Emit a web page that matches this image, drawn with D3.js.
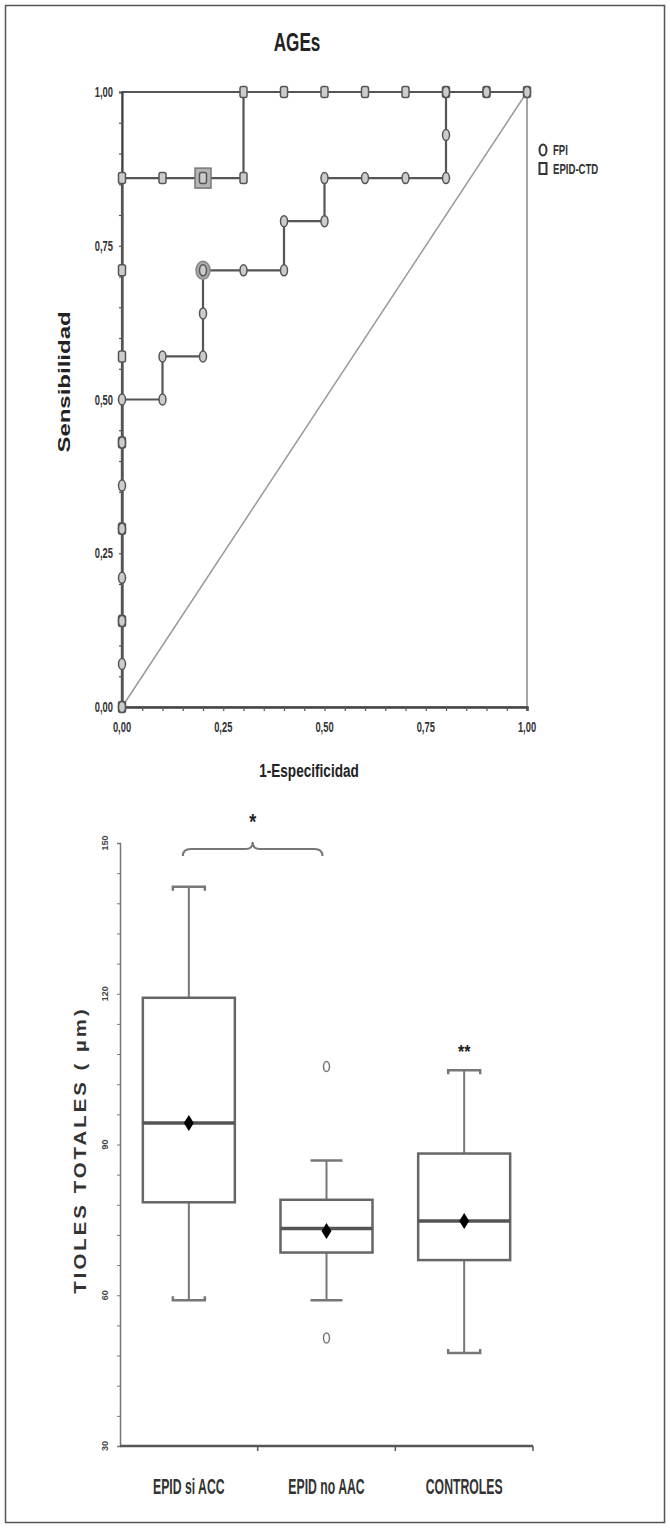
<!DOCTYPE html>
<html>
<head>
<meta charset="utf-8">
<script src="https://cdn.jsdelivr.net/npm/d3@7"></script>
<style>
  body { margin: 0; background: #fff; }
  svg { display: block; }
  text { font-family: "Liberation Sans", Arial, sans-serif; font-weight: bold; fill: #222; }
</style>
</head>
<body>
<div id="chart"></div>
<script>
const width = 670, height = 1528;

// ROC curves (1-especificidad, sensibilidad)
const fpiFpr = [0, 0, 0, 0, 0, 0, 0, 0, 0.1, 0.1, 0.2, 0.2, 0.2, 0.3, 0.4, 0.4, 0.5, 0.5, 0.6, 0.7, 0.8, 0.8, 0.8, 0.9, 1];
const fpiTpr = [0, 0.07, 0.14, 0.21, 0.29, 0.36, 0.43, 0.5, 0.5, 0.57, 0.57, 0.64, 0.71, 0.71, 0.71, 0.79, 0.79, 0.86, 0.86, 0.86, 0.86, 0.93, 1, 1, 1];
const ctdFpr = [0, 0, 0, 0, 0, 0, 0, 0.1, 0.2, 0.3, 0.3, 0.4, 0.5, 0.6, 0.7, 0.8, 0.9, 1];
const ctdTpr = [0, 0.14, 0.29, 0.43, 0.57, 0.71, 0.86, 0.86, 0.86, 0.86, 1, 1, 1, 1, 1, 1, 1, 1];
const fpiCut = [0.2, 0.71];
const ctdCut = [0.2, 0.86];
const rocTicks = [0, 0.25, 0.5, 0.75, 1];
const legendNames = ["FPI", "EPID-CTD"];

// box plot
const groups = ["EPID si ACC", "EPID no AAC", "CONTROLES"];
const whiskerLow = [59, 59, 48.5];
const q1 = [78.5, 68.5, 67];
const median = [94.3, 73.3, 74.8];
const q3 = [119.2, 79, 88.2];
const whiskerHigh = [141.3, 86.8, 104.8];
const means = [94.3, 72.8, 74.8];
const outliers = [[], [105.5, 51.5], []];
const boxTicks = [30, 60, 90, 120, 150];

const svg = d3.select("#chart").append("svg")
  .attr("width", width)
  .attr("height", height);

svg.append("rect")
  .attr("x", 5.5).attr("y", 5.5)
  .attr("width", 659).attr("height", 1517)
  .attr("fill", "none")
  .attr("stroke", "#555")
  .attr("stroke-width", 1.5);

// condensed, tall text like the scanned figure
function label(x, y, str, size, sx, sy, rotate, anchor) {
  return svg.append("text")
    .attr("transform", `translate(${x},${y}) rotate(${rotate || 0}) scale(${sx},${sy})`)
    .attr("text-anchor", anchor || "middle")
    .style("font-size", size + "px")
    .text(str);
}

const comma = d => d3.format(".2f")(d).replace(".", ",");

/* ---------- ROC ---------- */
const rx = d3.scaleLinear().domain([0, 1]).range([122, 527]);
const ry = d3.scaleLinear().domain([0, 1]).range([707, 92]);

label(297, 51, "AGEs", 22, 0.78, 1.15);

svg.append("rect")
  .attr("x", rx(0)).attr("y", ry(1))
  .attr("width", rx(1) - rx(0)).attr("height", ry(0) - ry(1))
  .attr("fill", "none")
  .attr("stroke", "#888")
  .attr("stroke-width", 1.5);

svg.append("line")
  .attr("x1", rx(0)).attr("y1", ry(1))
  .attr("x2", rx(1)).attr("y2", ry(1))
  .attr("stroke", "#555")
  .attr("stroke-width", 2);

svg.append("line")
  .attr("x1", rx(0)).attr("y1", ry(0))
  .attr("x2", rx(1)).attr("y2", ry(1))
  .attr("stroke", "#999")
  .attr("stroke-width", 1.5);

const xAxis = svg.append("g")
  .attr("transform", `translate(0,${ry(0)})`)
  .call(d3.axisBottom(rx).ticks(20).tickSize(4).tickFormat(""));
xAxis.select(".domain").attr("stroke", "#444").attr("stroke-width", 2.5);
xAxis.selectAll(".tick line").attr("stroke", "#555").attr("stroke-width", 1.2);

const yAxis = svg.append("g")
  .attr("transform", `translate(${rx(0)},0)`)
  .call(d3.axisLeft(ry).ticks(20).tickSize(3).tickFormat(""));
yAxis.select(".domain").attr("stroke", "#444").attr("stroke-width", 2.2);
yAxis.selectAll(".tick line").attr("stroke", "#555").attr("stroke-width", 1.2);

rocTicks.forEach(t => {
  label(rx(t), ry(0) + 25, comma(t), 11, 0.85, 1.3).style("fill", "#333");
  label(rx(0) - 9, ry(t) + 5, comma(t), 11, 0.85, 1.3, 0, "end").style("fill", "#333");
});

label(309, 777, "1-Especificidad", 16, 0.85, 1.2);
label(70, 382, "Sensibilidad", 16, 1.5, 1, -90);

const line = d3.line().x(d => rx(d[0])).y(d => ry(d[1]));
const ctdPts = ctdFpr.map((f, i) => [f, ctdTpr[i]]);
const fpiPts = fpiFpr.map((f, i) => [f, fpiTpr[i]]);

[ctdPts, fpiPts].forEach(pts => {
  svg.append("path")
    .datum(pts)
    .attr("fill", "none")
    .attr("stroke", "#555")
    .attr("stroke-width", 2.2)
    .attr("d", line);
});

// cut-off highlights
svg.append("rect")
  .attr("x", rx(ctdCut[0]) - 8).attr("y", ry(ctdCut[1]) - 10)
  .attr("width", 16).attr("height", 20)
  .attr("fill", "#b5b5b5")
  .attr("stroke", "#777")
  .attr("stroke-width", 1.5);

svg.append("ellipse")
  .attr("cx", rx(fpiCut[0])).attr("cy", ry(fpiCut[1]))
  .attr("rx", 7).attr("ry", 9)
  .attr("fill", "#aaa")
  .attr("stroke", "#888")
  .attr("stroke-width", 1.5);

svg.selectAll(".ctd-point")
  .data(ctdPts)
  .enter()
  .append("rect")
  .attr("class", "ctd-point")
  .attr("x", d => rx(d[0]) - 3.5)
  .attr("y", d => ry(d[1]) - 5.5)
  .attr("width", 7).attr("height", 11)
  .attr("rx", 2)
  .attr("fill", "#ccc")
  .attr("stroke", "#555")
  .attr("stroke-width", 1.5);

svg.selectAll(".fpi-point")
  .data(fpiPts)
  .enter()
  .append("ellipse")
  .attr("class", "fpi-point")
  .attr("cx", d => rx(d[0]))
  .attr("cy", d => ry(d[1]))
  .attr("rx", 3.5).attr("ry", 5.5)
  .attr("fill", "#ccc")
  .attr("stroke", "#555")
  .attr("stroke-width", 1.5);

// legend
svg.append("ellipse")
  .attr("cx", 543).attr("cy", 150)
  .attr("rx", 3.5).attr("ry", 5.5)
  .attr("fill", "#fff").attr("stroke", "#333").attr("stroke-width", 2);
svg.append("rect")
  .attr("x", 539.5).attr("y", 163)
  .attr("width", 7).attr("height", 11)
  .attr("fill", "#fff").attr("stroke", "#333").attr("stroke-width", 2);
label(553, 155, legendNames[0], 12, 0.8, 1.25, 0, "start").style("fill", "#333");
label(553, 174, legendNames[1], 12, 0.8, 1.25, 0, "start").style("fill", "#333");

/* ---------- box plot ---------- */
const by = d3.scaleLinear().domain([30, 150]).range([1446, 843]);
const bx = d3.scaleBand().domain(groups).range([120, 533]).padding(0);
const cx = i => bx(groups[i]) + bx.bandwidth() / 2;
const boxW = 92, capW = 32;

const bAxis = svg.append("g")
  .attr("transform", "translate(120,0)")
  .call(d3.axisLeft(by).tickValues(d3.range(30, 151, 6)).tickSize(3).tickFormat(""));
bAxis.select(".domain").attr("stroke", "#777").attr("stroke-width", 1.5);
bAxis.selectAll(".tick line").attr("stroke", "#777");

boxTicks.forEach(t => {
  label(108, by(t), String(t), 9, 1, 1, -90).style("fill", "#444");
});

svg.append("line")
  .attr("x1", 120).attr("x2", 533)
  .attr("y1", by(30)).attr("y2", by(30))
  .attr("stroke", "#555")
  .attr("stroke-width", 2.5);

svg.selectAll(".band-tick")
  .data(groups)
  .enter()
  .append("line")
  .attr("class", "band-tick")
  .attr("x1", d => bx(d) + bx.bandwidth())
  .attr("x2", d => bx(d) + bx.bandwidth())
  .attr("y1", by(30)).attr("y2", by(30) + 5)
  .attr("stroke", "#555")
  .attr("stroke-width", 1.5);

groups.forEach((g, i) => {
  label(cx(i), 1494, g, 17, 0.72, 1.35).style("fill", "#333");
});

label(86, 1150, "TIOLES TOTALES ( µm)", 17, 1.2, 1, -90)
  .style("letter-spacing", "2.5px")
  .style("fill", "#333");

groups.forEach((g, i) => {
  const c = cx(i);
  const hook = i === 1 ? 0 : 4;

  svg.append("line")
    .attr("x1", c).attr("x2", c)
    .attr("y1", by(q3[i])).attr("y2", by(whiskerHigh[i]))
    .attr("stroke", "#777").attr("stroke-width", 2);
  svg.append("line")
    .attr("x1", c).attr("x2", c)
    .attr("y1", by(q1[i])).attr("y2", by(whiskerLow[i]))
    .attr("stroke", "#777").attr("stroke-width", 2);

  const yt = by(whiskerHigh[i]), yb = by(whiskerLow[i]);
  svg.append("path")
    .attr("d", `M${c - capW / 2},${yt + hook}L${c - capW / 2},${yt}L${c + capW / 2},${yt}L${c + capW / 2},${yt + hook}`)
    .attr("fill", "none").attr("stroke", "#777").attr("stroke-width", 2.5);
  svg.append("path")
    .attr("d", `M${c - capW / 2},${yb - hook}L${c - capW / 2},${yb}L${c + capW / 2},${yb}L${c + capW / 2},${yb - hook}`)
    .attr("fill", "none").attr("stroke", "#777").attr("stroke-width", 2.5);

  svg.append("rect")
    .attr("x", c - boxW / 2).attr("y", by(q3[i]))
    .attr("width", boxW).attr("height", by(q1[i]) - by(q3[i]))
    .attr("fill", "#fff")
    .attr("stroke", "#666")
    .attr("stroke-width", 2.5);

  svg.append("line")
    .attr("x1", c - boxW / 2).attr("x2", c + boxW / 2)
    .attr("y1", by(median[i])).attr("y2", by(median[i]))
    .attr("stroke", "#555").attr("stroke-width", 3.5);

  const my = by(means[i]);
  svg.append("path")
    .attr("d", `M${c},${my - 8}L${c + 5},${my}L${c},${my + 8}L${c - 5},${my}Z`)
    .attr("fill", "#000");

  outliers[i].forEach(v => {
    svg.append("ellipse")
      .attr("cx", c).attr("cy", by(v))
      .attr("rx", 3).attr("ry", 5)
      .attr("fill", "none")
      .attr("stroke", "#777")
      .attr("stroke-width", 1.5);
  });
});

// significance marks
const bl = cx(0) - 6, br = cx(1) - 4, bm = (bl + br) / 2, byy = by(150) + 6;
svg.append("path")
  .attr("d", `M${bl},${byy + 7}Q${bl},${byy} ${bl + 8},${byy}L${bm - 7},${byy}Q${bm},${byy} ${bm},${byy - 7}Q${bm},${byy} ${bm + 7},${byy}L${br - 8},${byy}Q${br},${byy} ${br},${byy + 7}`)
  .attr("fill", "none")
  .attr("stroke", "#777")
  .attr("stroke-width", 2);
label(bm, byy - 20, "*", 18, 1, 1.2);
label(cx(2), by(whiskerHigh[2]) - 12, "**", 16, 1, 1.2);
</script>
</body>
</html>
